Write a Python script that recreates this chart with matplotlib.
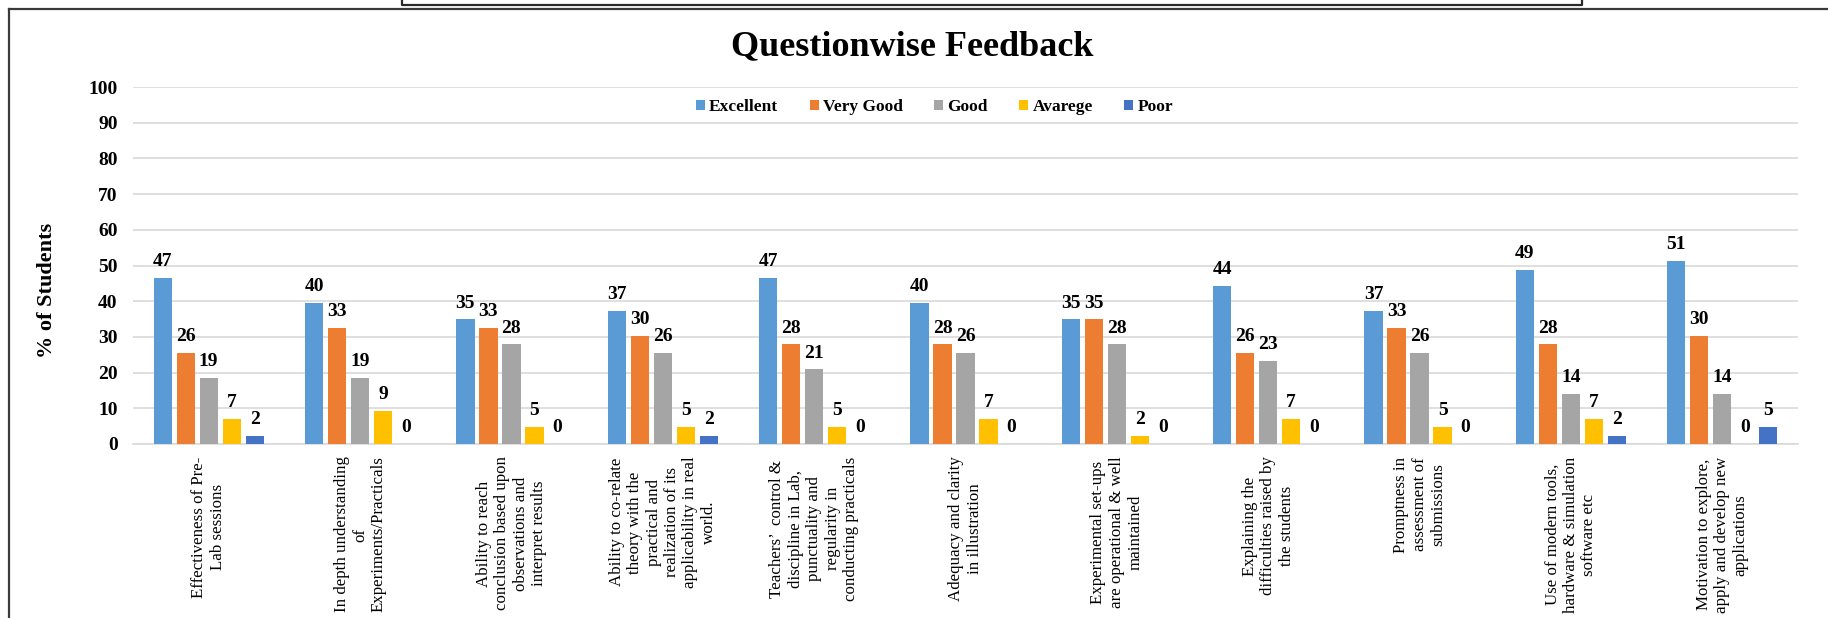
import numpy as np
import matplotlib
matplotlib.use("Agg")
import matplotlib.pyplot as plt
from matplotlib.lines import Line2D

categories = [
    "Effectiveness of Pre-\nLab sessions",
    "In depth understanding\nof\nExperiments/Practicals",
    "Ability to reach\nconclusion based upon\nobservations and\ninterpret results",
    "Ability to co-relate\ntheory with the\npractical and\nrealization of its\napplicability in real\nworld.",
    "Teachers\u2019  control &\ndiscipline in Lab,\npunctuality and\nregularity in\nconducting practicals",
    "Adequacy and clarity\nin illustration",
    "Experimental set-ups\nare operational & well\nmaintained",
    "Explaining the\ndifficulties raised by\nthe students",
    "Promptness in\nassessment of\nsubmissions",
    "Use of modern tools,\nhardware & simulation\nsoftware etc",
    "Motivation to explore,\napply and develop new\napplications",
]

series_names = ["Excellent", "Very Good", "Good", "Avarege", "Poor"]
excellent = [46.5, 39.5, 34.9, 37.2, 46.5, 39.5, 34.9, 44.2, 37.2, 48.8, 51.2]
very_good = [25.6, 32.6, 32.6, 30.2, 27.9, 27.9, 34.9, 25.6, 32.6, 27.9, 30.2]
good = [18.6, 18.6, 27.9, 25.6, 20.9, 25.6, 27.9, 23.3, 25.6, 14.0, 14.0]
average = [7.0, 9.3, 4.7, 4.7, 4.7, 7.0, 2.3, 7.0, 4.7, 7.0, 0.0]
poor = [2.3, 0.0, 0.0, 2.3, 0.0, 0.0, 0.0, 0.0, 0.0, 2.3, 4.7]
colors = ["#5B9BD5", "#ED7D31", "#A5A5A5", "#FFC000", "#4472C4"]

yticks = [0, 10, 20, 30, 40, 50, 60, 70, 80, 90, 100]

plt.rcParams['font.family'] = ['Liberation Serif', 'DejaVu Serif']

W, H = 1828, 618
fig = plt.figure(figsize=(W / 100, H / 100), dpi=100)
ax = fig.add_axes([133 / W, 1 - 444 / H, (1798 - 133) / W, (444 - 87) / H])

x = np.arange(len(categories))
pitch = 0.152
width = 0.121
data = [excellent, very_good, good, average, poor]
for i, (name, vals, c) in enumerate(zip(series_names, data, colors)):
    xs = x + (i - 2) * pitch
    ax.bar(xs, vals, width=width, color=c, label=name, zorder=3)
    for xi, v in zip(xs, vals):
        ax.annotate(str(int(np.floor(v + 0.5))), (xi, v), xytext=(0, 8.5),
                    textcoords="offset points", ha="center", va="baseline",
                    fontsize=14, fontweight="bold", color="black")

ax.set_xlim(-0.5, len(categories) - 0.5)
ax.set_ylim(0, 100)
ax.set_yticks(yticks)
ax.set_yticklabels([str(t) for t in yticks], fontsize=14, fontweight="bold")
ax.set_xticks(x)
ax.set_xticklabels(categories, rotation=90, fontsize=12.2, ha="center", va="top",
                   multialignment="center", linespacing=1.2)
ax.tick_params(axis="both", length=0)
ax.tick_params(axis="y", pad=11)
ax.tick_params(axis="x", pad=9)
ax.grid(axis="y", color="#D9D9D9", linewidth=1.2, zorder=0)
ax.set_axisbelow(True)
for s in ["left", "right", "top"]:
    ax.spines[s].set_visible(False)
ax.spines["bottom"].set_color("#D9D9D9")
ax.spines["bottom"].set_linewidth(1.2)

fig.text(912.5 / W, 1 - 55 / H, "Questionwise Feedback", ha="center", va="baseline",
         fontsize=26, fontweight="bold")
fig.text(47 / W, 1 - 290 / H, "% of Students", rotation=90, ha="center", va="center",
         fontsize=16, fontweight="bold")

leg = fig.legend(loc="center", bbox_to_anchor=(934.5 / W, 1 - 107 / H), ncol=5,
                 frameon=False, prop={"size": 12.5, "weight": "bold"},
                 handlelength=0.52, handleheight=0.52, handletextpad=0.25,
                 columnspacing=1.8, borderpad=0, borderaxespad=0)

# chart frame and top box
fig.add_artist(Line2D([9 / W, 1.0], [1 - 9 / H, 1 - 9 / H], transform=fig.transFigure,
                      color="#3A3A3A", linewidth=1.6))
fig.add_artist(Line2D([9 / W, 9 / W], [1 - 9 / H, 0], transform=fig.transFigure,
                      color="#3A3A3A", linewidth=1.6))
fig.add_artist(Line2D([402 / W, 402 / W, 1582 / W, 1582 / W],
                      [1.0, 1 - 4.5 / H, 1 - 4.5 / H, 1.0], transform=fig.transFigure,
                      color="#2A2A2A", linewidth=1.6))

fig.savefig("out.png", dpi=100)
